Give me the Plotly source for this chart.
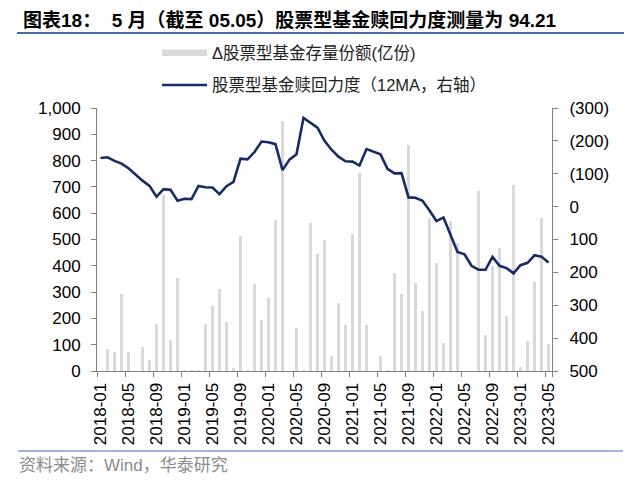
import plotly.graph_objects as go

# ---------------- data ----------------
months = [f"{y}-{m:02d}" for y in range(2018, 2024) for m in range(1, 13)][:65]

fund_change = [0, 85, 71, 292, 71, 0, 93, 43, 180, 670, 119, 355,
               3, 3, 3, 178, 249, 312, 185, 12, 512, 2, 330, 194,
               277, 576, 949, 0, 165, 2, 564, 444, 499, 57, 260, 175,
               522, 753, 175, 0, 58, 2, 372, 294, 858, 335, 227, 582,
               412, 108, 572, 486, 0, 0, 683, 136, 400, 468, 211, 706,
               16, 115, 338, 582, 102]

redeem_12ma = [-148, -150, -139, -131, -117, -97, -79, -63, -30, -53, -51, -18,
               -24, -23, -63, -59, -58, -38, -62, -75, -146, -144, -166, -198,
               -196, -190, -111, -143, -159, -270, -256, -240, -200, -173, -152, -138,
               -137, -125, -175, -167, -159, -115, -101, -102, -28, -27, -18, 12,
               44, 33, 85, 138, 145, 180, 192, 192, 153, 180, 187, 203,
               178, 171, 148, 152, 170]

x_ticks = months[::4]
left_ticks = list(range(0, 1001, 100))
right_ticks = list(range(-300, 501, 100))
right_ticktext = [f"({-v})" if v < 0 else str(v) for v in right_ticks]

bar_name = "Δ股票型基金存量份额(亿份)"
line_name = "股票型基金赎回力度（12MA，右轴）"
title_text = "图表18：  5 月（截至 05.05）股票型基金赎回力度测量为 94.21"
source_text = "资料来源：Wind，华泰研究"

# ---------------- layout geometry ----------------
W, H = 640, 487
L, R, T, B = 97, 552, 108, 371


def px(x):
    return (x - L) / (R - L)


def py(y):
    return (B - y) / (B - T)


CJK = "Noto Sans CJK SC"
LAT = "Liberation Sans"
BAR_COLOR = "#d9d9d9"
LINE_COLOR = "#172c66"
AXIS_COLOR = "#808080"

fig = go.Figure()
fig.add_trace(go.Bar(x=months, y=fund_change, name=bar_name,
                     marker=dict(color=BAR_COLOR, line=dict(width=0)),
                     width=0.36, yaxis="y", showlegend=False))
fig.add_trace(go.Scatter(x=months, y=redeem_12ma, name=line_name, mode="lines",
                         line=dict(color=LINE_COLOR, width=2.6), yaxis="y2",
                         showlegend=False))

fig.update_layout(
    width=W, height=H,
    margin=dict(l=L, r=W - R, t=T, b=H - B, pad=0),
    paper_bgcolor="white", plot_bgcolor="white",
    font=dict(family=f"{LAT}, {CJK}", size=16, color="#000000"),
    bargap=0,
    xaxis=dict(type="category", categoryorder="array", categoryarray=months,
               range=[-0.5, len(months) - 0.5],
               tickmode="array", tickvals=x_ticks, ticktext=x_ticks,
               tickson="boundaries", tickangle=-90,
               ticks="outside", ticklen=5, tickcolor=AXIS_COLOR, tickwidth=1,
               showline=True, linecolor=AXIS_COLOR, linewidth=1,
               showgrid=False, zeroline=False, ticklabelstandoff=4,
               tickfont=dict(family=LAT, size=17, color="#000000")),
    yaxis=dict(range=[0, 1000], tickmode="array", tickvals=left_ticks,
               tickformat=",d", ticks="outside", ticklen=5,
               tickcolor=AXIS_COLOR, showline=True, linecolor=AXIS_COLOR,
               linewidth=1, showgrid=False, zeroline=False,
               ticklabelstandoff=7,
               tickfont=dict(family=LAT, size=17, color="#000000")),
    yaxis2=dict(range=[500, -300], overlaying="y", side="right",
                tickmode="array", tickvals=right_ticks, ticktext=right_ticktext,
                ticks="outside", ticklen=5, tickcolor=AXIS_COLOR,
                showline=True, linecolor=AXIS_COLOR, linewidth=1,
                showgrid=False, zeroline=False, ticklabelstandoff=8,
                tickfont=dict(family=LAT, size=17, color="#000000")),
)

shapes = [
    # title underline
    dict(type="line", xref="paper", yref="paper", x0=px(17), x1=px(624),
         y0=py(33), y1=py(33), line=dict(color="#4a6aa3", width=2.2)),
    # bottom separator
    dict(type="line", xref="paper", yref="paper", x0=px(18), x1=px(623),
         y0=py(451), y1=py(451), line=dict(color="#7f9ccc", width=1.5)),
    # legend: bar swatch
    dict(type="rect", xref="paper", yref="paper", x0=px(162), x1=px(207),
         y0=py(56), y1=py(49.5), fillcolor=BAR_COLOR, line=dict(width=0)),
    # legend: line swatch
    dict(type="line", xref="paper", yref="paper", x0=px(162), x1=px(207),
         y0=py(85), y1=py(85), line=dict(color=LINE_COLOR, width=2.6)),
]

annotations = [
    dict(text=f"<b>{title_text}</b>", xref="paper", yref="paper",
         x=px(21), y=py(20), xanchor="left", yanchor="middle", showarrow=False,
         font=dict(family=f"{LAT}, {CJK}", size=19, color="#000000")),
    dict(text=bar_name, xref="paper", yref="paper", x=px(210), y=py(52.5),
         xanchor="left", yanchor="middle", showarrow=False,
         font=dict(family=f"{LAT}, {CJK}", size=16.5, color="#222222")),
    dict(text=line_name, xref="paper", yref="paper", x=px(210), y=py(85),
         xanchor="left", yanchor="middle", showarrow=False,
         font=dict(family=f"{LAT}, {CJK}", size=16.5, color="#222222")),
    dict(text=source_text, xref="paper", yref="paper", x=px(17), y=py(465),
         xanchor="left", yanchor="middle", showarrow=False,
         font=dict(family=f"{LAT}, {CJK}", size=17, color="#8c8c8c")),
]

fig.update_layout(shapes=shapes, annotations=annotations)
fig.write_html("out.html")
